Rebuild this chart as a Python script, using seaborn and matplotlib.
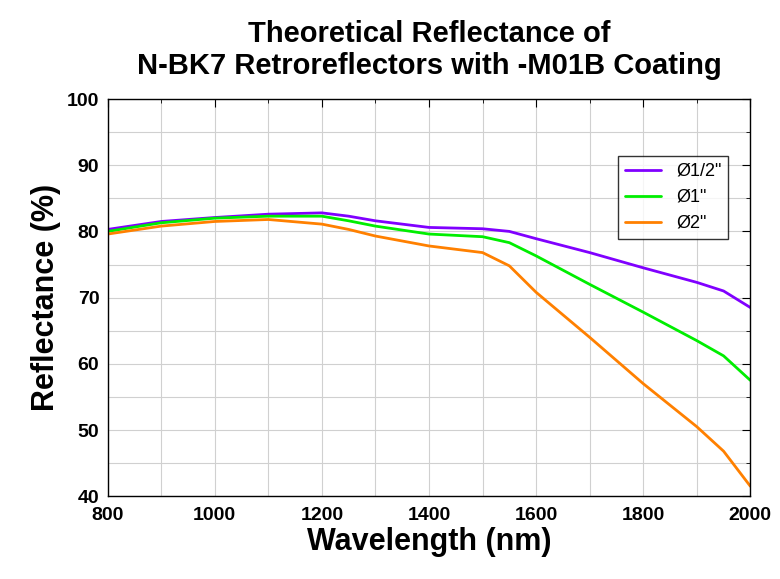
import matplotlib
matplotlib.use("Agg")
import matplotlib.pyplot as plt
import seaborn as sns
import pandas as pd
from matplotlib.ticker import MultipleLocator

wavelength = [800, 900, 1000, 1100, 1200, 1250, 1300, 1400, 1500, 1550, 1600, 1700, 1800, 1900, 1950, 2000]
r_half = [80.3, 81.5, 82.1, 82.6, 82.8, 82.3, 81.6, 80.6, 80.4, 80.0, 78.9, 76.8, 74.5, 72.3, 71.0, 68.5]
r_one = [80.0, 81.3, 82.0, 82.3, 82.3, 81.6, 80.8, 79.6, 79.2, 78.3, 76.3, 72.0, 67.8, 63.5, 61.2, 57.5]
r_two = [79.6, 80.8, 81.5, 81.8, 81.1, 80.3, 79.3, 77.8, 76.8, 74.8, 70.8, 64.0, 57.0, 50.5, 46.8, 41.5]
labels = ['Ø1/2"', 'Ø1"', 'Ø2"']
colors = ["#8000ff", "#00ee00", "#ff8000"]

df = pd.concat([pd.DataFrame({"wl": wavelength, "R": v, "s": l})
                for v, l in zip([r_half, r_one, r_two], labels)])

sns.set_style("white")
plt.rcParams['font.family'] = ['Liberation Sans', 'DejaVu Sans']
plt.rcParams['text.color'] = 'black'
plt.rcParams['axes.labelcolor'] = 'black'
plt.rcParams['xtick.color'] = 'black'
plt.rcParams['ytick.color'] = 'black'
fig = plt.figure(figsize=(7.8, 5.79), dpi=100)
ax = fig.add_axes([0.138, 0.143, 0.824, 0.686])
sns.lineplot(data=df, x="wl", y="R", hue="s", palette=colors, ax=ax, lw=2)
ax.set_xlim(800, 2000)
ax.set_ylim(40, 100)
ax.xaxis.set_major_locator(MultipleLocator(200))
ax.xaxis.set_minor_locator(MultipleLocator(100))
ax.yaxis.set_major_locator(MultipleLocator(10))
ax.yaxis.set_minor_locator(MultipleLocator(5))
ax.grid(which="both", color="#d0d0d0", lw=0.8)
ax.tick_params(which="both", direction="in", top=True, right=True, labelsize=14)
ax.tick_params(which="major", length=6)
ax.tick_params(which="minor", length=3)
ax.tick_params(axis="x", pad=8)
ax.tick_params(axis="y", pad=6)
for lab in ax.get_xticklabels() + ax.get_yticklabels():
    lab.set_fontweight("bold")
for s in ax.spines.values():
    s.set_color("black"); s.set_linewidth(1)
ax.set_xlabel("Wavelength (nm)", fontsize=22, fontweight="bold", labelpad=2)
ax.set_ylabel("Reflectance (%)", fontsize=22, fontweight="bold", labelpad=4)
ax.set_title("Theoretical Reflectance of\nN-BK7 Retroreflectors with -M01B Coating",
             fontsize=21, fontweight="bold", pad=18, color="black")
leg = ax.legend(loc="upper right", bbox_to_anchor=(0.98, 0.88), fontsize=13,
                frameon=True, fancybox=False, edgecolor="black", title=None)
fig.savefig("out.png", dpi=100)
